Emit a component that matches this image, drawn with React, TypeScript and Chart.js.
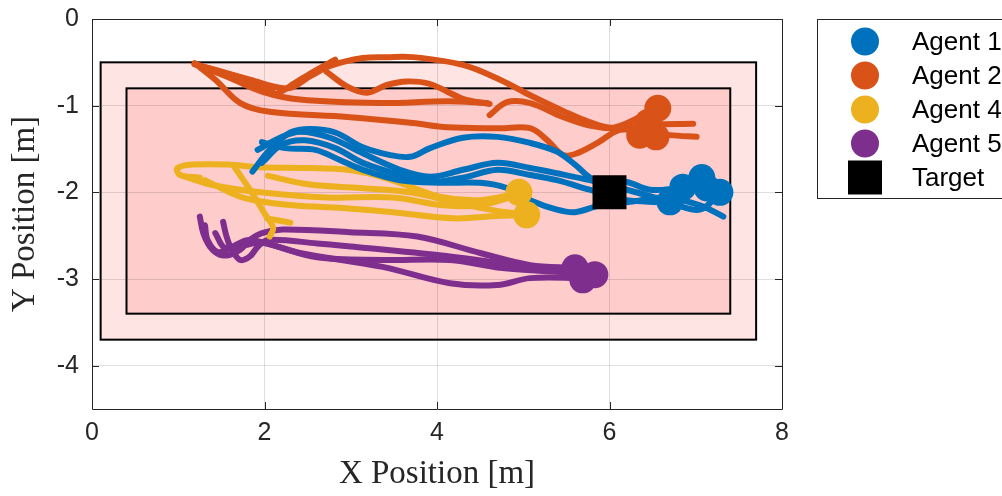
import React, { useEffect, useRef } from 'react';
import { Chart, registerables } from 'chart.js';

Chart.register(...registerables);

// ---------- axes ----------
const xRange = [0, 8];
const yRange = [-4.5, 0];
const xTicks = [0, 2, 4, 6, 8];
const yTicks = [-4, -3, -2, -1, 0];
const xTitle = 'X Position [m]';
const yTitle = 'Y Position [m]';

// ---------- zones ----------
const outerZoneX = [0.1, 7.7];
const outerZoneY = [-3.7, -0.5];
const innerZoneX = [0.4, 7.4];
const innerZoneY = [-3.4, -0.8];

// ---------- legend ----------
const legendLabels = ['Agent 1', 'Agent 2', 'Agent 4', 'Agent 5', 'Target'];
const agentColors = ['#0072BD', '#D95319', '#EDB120', '#7E2F8E'];

// ---------- target ----------
const targetPos = [[6.0, -2.0]];

// ---------- Agent 1 (blue) ----------
const agent1Run1 = [[1.86, -1.76], [2.06, -1.51], [2.30, -1.31], [2.53, -1.27], [2.82, -1.31], [3.14, -1.48], [3.46, -1.57], [3.69, -1.59], [3.92, -1.49], [4.30, -1.37], [4.70, -1.36], [5.08, -1.43], [5.39, -1.53], [5.60, -1.68], [5.83, -1.86], [6.20, -1.88], [6.47, -1.97], [6.85, -1.94], [7.07, -1.86]];
const agent1Run2 = [[1.92, -1.51], [2.18, -1.37], [2.41, -1.30], [2.76, -1.37], [3.14, -1.55], [3.57, -1.74], [3.92, -1.82], [4.30, -1.74], [4.70, -1.66], [5.08, -1.72], [5.39, -1.78], [5.77, -1.86], [6.20, -1.97], [6.70, -2.11]];
const agent1Run3 = [[1.97, -1.66], [2.20, -1.45], [2.47, -1.40], [2.82, -1.49], [3.14, -1.66], [3.57, -1.80], [3.92, -1.88], [4.30, -1.83], [4.70, -1.74], [5.08, -1.80], [5.39, -1.86], [5.77, -1.97], [6.20, -2.09], [6.67, -2.12], [7.05, -2.20], [7.28, -2.00]];
const agent1Run4 = [[1.97, -1.42], [2.24, -1.49], [2.59, -1.51], [2.88, -1.63], [3.14, -1.74], [3.57, -1.86], [4.03, -1.89], [4.50, -1.89], [4.81, -1.95], [5.08, -2.09], [5.39, -2.20], [5.60, -2.23], [5.89, -2.15], [6.24, -2.11], [6.64, -2.06], [7.05, -2.15], [7.32, -2.28]];
const agent1Final = [[6.70, -2.11], [6.85, -1.94], [7.07, -1.83], [7.13, -1.95], [7.28, -2.00]];

// ---------- Agent 2 (orange) ----------
const agent2Run1 = [[1.19, -0.51], [1.43, -0.70], [1.72, -0.97], [2.06, -1.07], [2.96, -1.13], [3.72, -1.20], [4.12, -1.25], [4.73, -1.26], [5.08, -1.26], [5.28, -1.40], [5.46, -1.57], [5.62, -1.55], [5.86, -1.43], [6.12, -1.28], [6.39, -1.30], [6.70, -1.34], [7.01, -1.36]];
const agent2Run2a = [[1.19, -0.52], [1.60, -0.68], [1.98, -0.84], [2.41, -0.93], [3.34, -0.97], [4.12, -0.95], [4.58, -0.97]];
const agent2Run2b = [[4.61, -1.11], [4.81, -0.96], [5.08, -0.97], [5.46, -1.13], [5.77, -1.23], [6.06, -1.26], [6.47, -1.22], [6.97, -1.21]];
const agent2Run3 = [[1.19, -0.52], [1.72, -0.68], [2.06, -0.82], [2.14, -0.86], [2.35, -0.74], [2.58, -0.60], [2.82, -0.47]];
const agent2Run4 = [[1.19, -0.52], [1.83, -0.70], [2.27, -0.80], [2.53, -0.66], [2.76, -0.54], [3.14, -0.45], [3.42, -0.44], [3.72, -0.44], [4.30, -0.53], [4.73, -0.70], [5.08, -0.88], [5.46, -1.06], [5.77, -1.19], [6.06, -1.25], [6.54, -1.03]];
const agent2Run5 = [[2.72, -0.61], [2.96, -0.78], [3.19, -0.85], [3.42, -0.76], [3.65, -0.72], [3.92, -0.75], [4.30, -0.92], [4.61, -0.98]];
const agent2Final = [[6.56, -1.03], [6.35, -1.34], [6.54, -1.36], [6.45, -1.19]];

// ---------- Agent 4 (yellow) ----------
const agent4Run1 = [[1.25, -1.83], [1.02, -1.80], [0.99, -1.72], [1.17, -1.68], [1.57, -1.68], [1.95, -1.71], [2.53, -1.72], [2.96, -1.74], [3.28, -1.80], [3.57, -1.89], [4.03, -2.05], [4.50, -2.09], [4.94, -2.01]];
const agent4Run2 = [[2.04, -1.81], [2.53, -1.91], [3.11, -1.95], [3.69, -2.00], [4.19, -2.11], [4.61, -2.20], [5.04, -2.26]];
const agent4Run3 = [[1.02, -1.80], [1.37, -1.91], [1.95, -2.00], [2.72, -2.06], [3.49, -2.06], [4.07, -2.15], [4.50, -2.15], [4.94, -2.03]];
const agent4Run4 = [[1.31, -1.86], [1.75, -2.06], [2.33, -2.15], [2.91, -2.18], [3.49, -2.23], [4.19, -2.30], [4.73, -2.27], [5.04, -2.26]];
const agent4Run5 = [[1.66, -1.72], [1.77, -1.88], [1.89, -2.06], [2.01, -2.26], [2.10, -2.41], [2.06, -2.51]];
const agent4Run6 = [[2.03, -2.30], [2.30, -2.35]];
const agent4Final = [[4.95, -2.00], [5.04, -2.26]];

// ---------- Agent 5 (purple) ----------
const agent5Run1 = [[1.25, -2.28], [1.29, -2.47], [1.37, -2.63], [1.48, -2.72], [1.60, -2.72], [1.72, -2.66], [1.83, -2.55], [1.97, -2.47], [2.21, -2.43], [2.99, -2.46], [3.77, -2.51], [4.50, -2.70], [5.08, -2.84], [5.60, -2.87]];
const agent5Run2 = [[1.52, -2.34], [1.56, -2.51], [1.62, -2.66], [1.72, -2.78], [1.83, -2.74], [1.92, -2.63], [2.04, -2.55], [2.61, -2.59], [3.37, -2.66], [4.15, -2.74], [4.70, -2.81], [5.19, -2.87], [5.77, -2.92]];
const agent5Run3 = [[1.31, -2.38], [1.34, -2.55], [1.46, -2.69], [1.62, -2.63], [1.83, -2.55], [2.41, -2.70], [3.37, -2.86], [4.15, -3.05], [4.70, -3.07], [5.08, -2.99], [5.69, -2.99]];
const agent5Run4 = [[1.43, -2.47], [1.54, -2.64], [1.77, -2.61], [1.97, -2.58], [2.61, -2.75], [3.37, -2.78], [4.15, -2.78], [4.73, -2.87], [5.43, -2.92], [5.83, -2.95]];
const agent5Final = [[5.60, -2.87], [5.83, -2.95], [5.69, -3.01]];

const agentPaths = [
  [agent1Run1, agent1Run2, agent1Run3, agent1Run4],
  [agent2Run1, agent2Run2a, agent2Run2b, agent2Run3, agent2Run4, agent2Run5],
  [agent4Run1, agent4Run2, agent4Run3, agent4Run4, agent4Run5, agent4Run6],
  [agent5Run1, agent5Run2, agent5Run3, agent5Run4],
];
const agentFinals = [agent1Final, agent2Final, agent4Final, agent5Final];
// drawing order: blue over orange over yellow over purple
const lineOrder = [10, 11, 12, 13];

const toPts = (arr: number[][]) => arr.map(([x, y]) => ({ x, y }));

const AXIS_COLOR = '#262626';
const TICK_FONT = 'Liberation Sans, Arial, sans-serif';
const TITLE_FONT = 'Liberation Serif, Times New Roman, serif';
const MARKER_R = 13.5;
const TARGET_R = 24;

const zonesPlugin = {
  id: 'zones',
  beforeDraw(chart: any) {
    const { ctx, scales } = chart;
    const x = scales.x;
    const y = scales.y;
    const draw = (zx: number[], zy: number[], fill: string) => {
      const l = x.getPixelForValue(zx[0]);
      const r = x.getPixelForValue(zx[1]);
      const t = y.getPixelForValue(zy[1]);
      const b = y.getPixelForValue(zy[0]);
      ctx.fillStyle = fill;
      ctx.fillRect(l, t, r - l, b - t);
      ctx.lineWidth = 2;
      ctx.strokeStyle = '#000';
      ctx.strokeRect(l, t, r - l, b - t);
    };
    ctx.save();
    draw(outerZoneX, outerZoneY, '#FFE4E4');
    draw(innerZoneX, innerZoneY, '#FFCCCC');
    ctx.restore();
  },
};

const framePlugin = {
  id: 'frame',
  afterDatasetsDraw(chart: any) {
    const { ctx, chartArea, scales } = chart;
    const { left, right, top, bottom } = chartArea;
    ctx.save();
    ctx.strokeStyle = AXIS_COLOR;
    ctx.lineWidth = 1;
    ctx.beginPath();
    ctx.rect(Math.round(left) + 0.5, Math.round(top) + 0.5, Math.round(right - left), Math.round(bottom - top));
    const tl = 7;
    xTicks.forEach((v) => {
      const px = Math.round(scales.x.getPixelForValue(v)) + 0.5;
      ctx.moveTo(px, bottom);
      ctx.lineTo(px, bottom - tl);
      ctx.moveTo(px, top);
      ctx.lineTo(px, top + tl);
    });
    yTicks.forEach((v) => {
      const py = Math.round(scales.y.getPixelForValue(v)) + 0.5;
      ctx.moveTo(left, py);
      ctx.lineTo(left + tl, py);
      ctx.moveTo(right, py);
      ctx.lineTo(right - tl, py);
    });
    ctx.stroke();
    ctx.restore();
  },
};

const legendPlugin = {
  id: 'customLegend',
  afterDraw(chart: any) {
    const { ctx } = chart;
    const boxL = 817;
    const boxT = 19;
    const boxB = 198;
    const rowH = 34;
    const firstY = 41.5;
    const markerX = 865;
    const textX = 912;
    ctx.save();
    ctx.fillStyle = '#fff';
    ctx.fillRect(boxL, boxT, 400, boxB - boxT);
    ctx.strokeStyle = '#262626';
    ctx.lineWidth = 1;
    ctx.strokeRect(boxL + 0.5, boxT + 0.5, 400, boxB - boxT);
    legendLabels.forEach((label, i) => {
      const cy = firstY + i * rowH;
      if (i < agentColors.length) {
        ctx.fillStyle = agentColors[i];
        ctx.beginPath();
        ctx.arc(markerX, cy, 14, 0, Math.PI * 2);
        ctx.fill();
      } else {
        ctx.fillStyle = '#000';
        ctx.fillRect(markerX - 17, cy - 17, 34, 34);
      }
      ctx.fillStyle = '#000';
      ctx.font = '26px ' + TICK_FONT;
      ctx.textAlign = 'left';
      ctx.textBaseline = 'middle';
      ctx.fillText(label, textX, cy + 1);
    });
    ctx.restore();
  },
};

export default function App() {
  const canvasRef = useRef<HTMLCanvasElement | null>(null);

  useEffect(() => {
    if (!canvasRef.current) return;
    const datasets: any[] = [];
    agentPaths.forEach((paths, i) => {
      paths.forEach((p) => {
        datasets.push({
          data: toPts(p),
          showLine: true,
          borderColor: agentColors[i],
          borderWidth: 6,
          pointRadius: 0,
          tension: 0.35,
          borderCapStyle: 'round',
          borderJoinStyle: 'round',
          fill: false,
          order: lineOrder[i],
        });
      });
    });
    agentFinals.forEach((f, i) => {
      datasets.push({
        data: toPts(f),
        showLine: false,
        pointRadius: MARKER_R,
        pointBackgroundColor: agentColors[i],
        pointBorderWidth: 0,
        order: 2,
      });
    });
    datasets.push({
      data: toPts(targetPos),
      showLine: false,
      pointStyle: 'rect',
      pointRadius: TARGET_R,
      pointBackgroundColor: '#000',
      pointBorderWidth: 0,
      order: 1,
    });

    const chart = new Chart(canvasRef.current, {
      type: 'scatter',
      data: { datasets },
      options: {
        responsive: false,
        devicePixelRatio: 1,
        animation: false,
        events: [],
        layout: { autoPadding: false, padding: { left: 0, top: 19, right: 220, bottom: 0 } },
        plugins: { legend: { display: false }, tooltip: { enabled: false } },
        scales: {
          x: {
            type: 'linear',
            min: xRange[0],
            max: xRange[1],
            afterBuildTicks: (s: any) => {
              s.ticks = xTicks.map((v) => ({ value: v }));
            },
            afterFit: (s: any) => {
              s.height = 87;
              s.paddingLeft = 0;
              s.paddingRight = 0;
            },
            grid: { color: 'rgba(38,38,38,0.15)', drawTicks: false },
            border: { display: false },
            ticks: {
              padding: 9,
              color: AXIS_COLOR,
              font: { family: TICK_FONT, size: 25 },
              callback: (v: any) => String(v),
            },
            title: {
              display: true,
              text: xTitle,
              color: AXIS_COLOR,
              font: { family: TITLE_FONT, size: 33, lineHeight: 1.1 },
              padding: { top: 0, bottom: 4 },
            },
          },
          y: {
            type: 'linear',
            min: yRange[0],
            max: yRange[1],
            afterBuildTicks: (s: any) => {
              s.ticks = yTicks.map((v) => ({ value: v }));
            },
            afterFit: (s: any) => {
              s.width = 92;
              s.paddingTop = 0;
              s.paddingBottom = 0;
            },
            grid: { color: 'rgba(38,38,38,0.15)', drawTicks: false },
            border: { display: false },
            ticks: {
              padding: 13,
              color: AXIS_COLOR,
              font: { family: TICK_FONT, size: 25 },
              callback: (v: any) => String(v),
            },
            title: {
              display: true,
              text: yTitle,
              color: AXIS_COLOR,
              font: { family: TITLE_FONT, size: 33, lineHeight: 1.1 },
              padding: { top: 7, bottom: 0 },
            },
          },
        },
      },
      plugins: [zonesPlugin, framePlugin, legendPlugin],
    } as any);
    return () => chart.destroy();
  }, []);

  return (
    <div style={{ position: 'fixed', left: 0, top: 0, width: 1002, height: 496, overflow: 'hidden', background: '#fff' }}>
      <canvas ref={canvasRef} width={1002} height={496} style={{ display: 'block' }} />
    </div>
  );
}
